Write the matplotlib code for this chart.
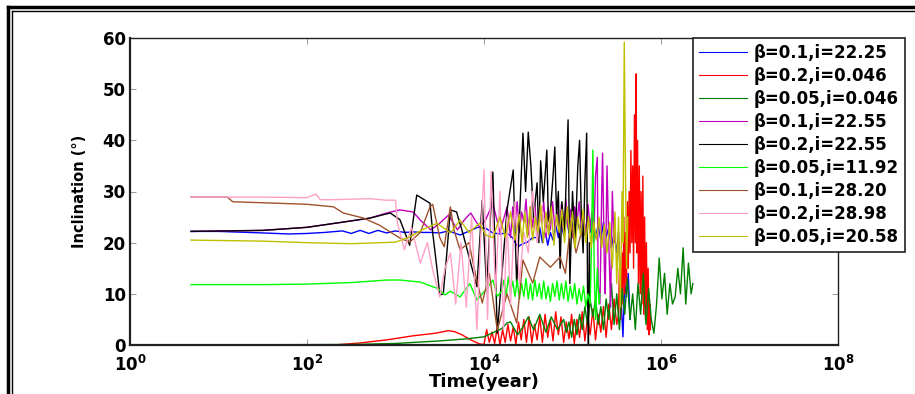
import matplotlib
matplotlib.use("Agg")
import matplotlib.pyplot as plt
import numpy as np
from matplotlib.lines import Line2D
from matplotlib.ticker import FixedLocator, FuncFormatter

plt.rcParams['font.family'] = ['DejaVu Sans']
plt.rcParams['mathtext.fontset'] = 'dejavusans'

# ---------------- data (time as log10(year), inclination in degrees) -------------
labels = ["β=0.1,i=22.25", "β=0.2,i=0.046", "β=0.05,i=0.046", "β=0.1,i=22.55",
          "β=0.2,i=22.55", "β=0.05,i=11.92", "β=0.1,i=28.20", "β=0.2,i=28.98",
          "β=0.05,i=20.58"]
colors = ['#0000ff', '#ff0000', '#008000', '#c000c0', '#000000',
          '#00ff00', '#a0522d', '#ffa0c8', '#c0c000']

blue_lt = [0.69,1.0,1.5,1.8,2.0,2.2,2.4,2.5,2.6,2.7,2.8,2.9,3.0,3.1,3.2,3.3,3.4,3.5,3.6,3.73,3.85,3.93,4.02,4.10,4.18,4.26,4.32,4.38,4.44,4.49,4.55,
           4.60,4.63,4.66,4.69,4.72,4.75,4.78,4.81,4.84,4.87,4.90,4.93,4.96,4.99,5.02,5.05,5.08,5.11,5.14,5.17,5.20,5.23,5.26,5.29,5.32,5.35,5.38,5.41,5.44,5.47,5.50,5.52,5.54,5.56,5.57,5.59,5.61,5.63,5.65]
blue_v = [22.2,22.2,21.9,21.7,21.8,22.0,22.3,21.8,22.4,21.8,22.4,21.9,22.3,22.0,22.1,22.0,22.0,21.9,22.3,21.5,22.4,23.0,22.8,21.9,21.7,21.9,21.0,19.2,19.8,20.1,21.0,
          21.0,23.0,20.0,22.5,19.5,22.0,20.5,23.5,21.0,24.0,21.5,25.0,22.0,24.5,21.0,25.0,22.5,24.0,21.5,25.0,22.0,24.5,21.0,23.5,20.5,24.0,21.0,23.0,19.0,22.0,18.0,22.0,13.0,5.0,1.6,12.0,9.4,14.0,5.0]

red_lt = [0.69,2.3,2.6,2.9,3.2,3.45,3.6,3.67,3.75,3.85,3.95,
          4.00,4.03,4.06,4.09,4.12,4.15,4.18,4.21,4.24,4.27,4.30,4.33,4.36,4.39,4.42,4.45,4.48,4.51,4.54,4.57,4.60,4.63,4.66,4.69,4.72,4.75,4.78,4.81,4.84,4.87,4.90,4.93,4.96,4.99,5.02,5.05,5.08,5.11,5.14,5.17,5.20,5.23,5.26,5.29,5.32,5.35,5.38,5.41,5.44,5.47,5.50,
          5.52,5.53,5.545,5.56,5.57,5.58,5.59,5.60,5.61,5.62,5.63,5.64,5.65,5.66,5.67,5.68,5.69,5.70,5.71,5.72,5.725,5.735,5.745,5.755,5.765,5.775,5.785,5.795,5.805,5.815,5.825,5.835,5.845,5.855,5.865,5.875,5.88]
red_v = [0,0,0.4,1.0,1.8,2.3,2.8,2.6,2.0,1.0,0.2,
         0.1,3,0.5,2.5,0.3,3.5,0,3,0.5,4,0.8,3.5,0.2,4.5,1,5,0.5,5.5,0.4,4,1,5.5,0.5,6,1.5,5,0.8,6.5,2,5.5,0.5,4.5,1.2,6,0.3,5,1.5,6.5,0.8,5.5,2,7,1,6,2.5,7.5,1.5,8,3,9,4,
         6,15,5,18,8,25,10,22,12,28,15,30,18,38,20,35,15,45,20,53,18,40,12,35,10,30,8,33,6,25,5,20,3,15,2,8,3]

dgreen_lt = [0.69,2.5,3.0,3.5,3.8,4.0,4.1,4.2,4.26,4.3,4.38,4.45,4.5,4.56,4.63,4.7,4.76,4.83,
             4.90,4.93,4.96,4.99,5.02,5.05,5.08,5.11,5.14,5.17,5.20,5.23,5.26,5.29,5.32,5.35,5.38,5.41,5.44,5.47,5.50,5.53,5.56,5.59,5.62,5.65,5.68,5.71,5.74,5.77,5.80,5.83,5.86,5.89,5.92,5.95,5.98,6.01,6.04,6.07,6.10,6.13,6.16,6.19,6.22,6.25,6.28,6.31,6.34,6.36]
dgreen_v = [0,0.1,0.3,0.8,1.2,1.6,2.4,3.2,4.3,4.5,2.0,3.8,5.5,3.0,6.0,2.5,5.5,3.0,
            5.0,2.5,4.5,1.5,5.0,2.0,6.0,3.0,7.5,4.0,8.8,5.5,9.0,4.0,7.5,3.0,9.0,5.0,12.0,4.0,10.0,3.0,11.0,6.0,13.0,5.0,10.0,3.0,12.0,6.0,14.0,4.0,11.0,5.0,2.3,8.0,17.0,9.0,14.0,6.0,12.0,8.0,9.4,15.0,10.0,19.0,8.0,16.0,10.0,12.0]

mag_lt = [0.69,1.5,2.0,2.4,2.71,2.9,3.05,3.2,3.28,3.4,3.5,3.6,3.7,3.78,3.85,3.95,4.02,4.1,4.18,4.26,
          4.30,4.325,4.35,4.375,4.40,4.425,4.45,4.475,4.50,4.525,4.55,4.575,4.60,4.625,4.65,4.675,4.70,4.725,4.75,4.775,4.80,4.825,4.85,4.875,4.90,4.925,4.95,4.975,5.00,5.025,5.05,5.075,5.10,5.125,5.15,5.175,5.20,
          5.22,5.24,5.26,5.28,5.29,5.31,5.33,5.34,5.36,5.37,5.39,5.41,5.43,5.45,5.47,5.48]
mag_v = [22.2,22.4,23.0,24.0,24.8,25.8,26.4,26.0,24.4,22.5,23.8,25.4,22.5,24.5,25.8,23.0,24.5,27.7,22.0,27.0,
         21,27,23,28,22,26,24,28.5,21.5,27,23,27.5,22,26.5,24,28,21,27,22.5,28,23,26,21.5,27.5,22,28.5,23,26.5,21,27,24,28,22.5,26,21,27.5,23,
         26,20,33,36.7,12,8,30,37.5,15,10,35,20,7.4,30,20,22]

black_lt = [0.69,1.5,2.0,2.4,2.71,2.94,3.05,3.16,3.24,3.39,3.42,3.47,3.50,3.54,3.58,3.62,3.69,3.76,3.92,3.98,4.03,4.10,4.15,4.26,4.33,4.37,
            4.44,4.47,4.50,4.53,4.56,4.60,4.62,4.64,4.67,4.71,4.73,4.75,4.78,4.80,4.82,4.84,4.86,4.88,4.91,4.95,4.97,5.00,5.03,5.06,5.08,5.10,5.12,5.14,5.16,5.17,5.18,5.19,5.20]
black_v = [22.2,22.4,23.0,24.0,24.8,25.8,24.5,19.5,29.3,27.7,22.0,14.7,9.8,10.0,18.0,26.4,26.0,21.9,11.4,28.3,11.0,33.8,2.3,26.4,34.2,11.4,
           41.4,30,41.6,35,25,31.7,20,36,28,38.1,22,26,33,38.7,25,30,15,28,22,44,12,30,20,35,40,25,18,32,41.4,10,0,20,8]

lime_lt = [0.69,1.5,2.0,2.5,2.9,3.05,3.28,3.42,3.47,3.56,3.62,3.73,3.84,3.92,4.03,4.1,4.15,
           4.20,4.225,4.25,4.275,4.30,4.325,4.35,4.375,4.40,4.425,4.45,4.475,4.50,4.525,4.55,4.575,4.60,4.625,4.65,4.675,4.70,4.725,4.75,4.775,4.80,4.825,4.85,4.875,4.90,4.925,4.95,4.975,5.00,5.025,5.05,5.075,5.10,5.125,5.15,5.175,5.20,5.215,5.23,5.245,5.26,5.28,5.30,5.31]
lime_v = [11.8,11.8,11.9,12.2,12.7,12.7,12.3,11.4,11.1,9.8,10.5,9.4,12.0,8.8,11.0,12.7,9.5,
          10.5,12.7,9.5,13.3,10,12.5,9.5,12.7,9.0,12.0,9.5,13,9,12,8.8,12.7,9.5,12,9,12.5,9,11.5,8.5,12,9.5,12.5,8.8,12,9,12.5,8.5,11.5,9,12,8,11,8.5,11.5,7.5,10,8,20,38.1,15,5,15,8,10]

brown_lt = [0.69,1.1,1.16,1.5,2.0,2.3,2.41,2.64,2.82,3.05,3.16,3.28,3.39,3.42,3.5,3.55,3.62,3.66,3.73,3.83,3.91,3.98,4.06,4.15,4.26,4.37,4.44,4.55,4.63,4.75,4.86,4.92,4.98,5.04,5.1]
brown_v = [28.9,28.9,28.0,27.8,27.5,27.0,25.8,24.8,23.4,20.9,20.1,22.0,27.0,27.5,21.0,19.2,27.0,22.5,18.6,20.0,13.3,8.2,14.0,2.9,10.0,4.3,16.6,12.1,17.2,15.2,17.2,14,24,18,22]

pink_lt = [0.69,1.5,2.0,2.1,2.15,2.3,2.71,2.9,3.0,3.02,3.1,3.18,3.28,3.36,3.42,3.50,3.56,3.62,3.68,3.74,3.80,3.86,3.92,3.96,4.0,4.04,4.08,4.13,4.18,4.22,4.26,4.3,4.35,4.4,4.45,4.5,4.55,4.6,4.65,4.7,4.75]
pink_v = [28.9,28.9,28.8,29.5,28.4,28.4,28.6,28.3,28.3,24,18.6,23.0,16.0,20.0,14.7,9.4,15.0,18.0,8.0,20.0,7.4,25.0,3.0,20.0,34.2,5.0,34.0,10.0,30.0,3.0,25.0,8.0,28.0,12.0,22.0,18.0,30.0,20.0,27.0,22.0,25.0]

yel_lt = [0.69,1.5,2.0,2.5,3.0,3.16,3.3,3.47,3.62,3.73,3.83,3.95,4.02,4.10,4.18,4.24,4.30,4.35,4.40,
          4.43,4.46,4.49,4.52,4.55,4.58,4.61,4.64,4.67,4.70,4.73,4.76,4.79,4.82,4.85,4.88,4.91,4.94,4.97,5.00,5.03,5.06,5.09,5.12,5.15,5.18,5.21,5.24,5.27,5.30,5.33,5.36,5.39,5.42,5.45,5.48,5.50,5.52,5.54,5.56,5.57,5.585,5.595,5.61,5.625]
yel_v = [20.5,20.3,20.0,19.8,20.1,21.1,22.5,23.8,21.9,24.4,22.0,23.8,21.5,21.0,25.0,21.0,26.0,20.5,25.5,
         20,26,21,27,20.5,25,22,27.5,20,26,21.5,27,19.5,25.5,22,26.5,20,27,21,26,19,25,21.5,26.5,20,25,19,24,20.5,25,19,23.5,18,24,15,26,12,25,7.4,30,20,59.2,40,15,25]

series_lt = [blue_lt, red_lt, dgreen_lt, mag_lt, black_lt, lime_lt, brown_lt, pink_lt, yel_lt]
series_v = [blue_v, red_v, dgreen_v, mag_v, black_v, lime_v, brown_v, pink_v, yel_v]

xticks_exp = [0, 2, 4, 6, 8]
yticks = [0, 10, 20, 30, 40, 50, 60]

# ---------------- figure ----------------
fig = plt.figure(figsize=(9.15, 3.94), dpi=100)
W, H = 915, 394
ax = fig.add_axes([130 / W, 1 - 345 / H, (838 - 130) / W, (345 - 38) / H])

handles = []
for lt, v, c, lab in zip(series_lt, series_v, colors, labels):
    t = np.power(10.0, np.array(lt))
    ln, = ax.plot(t, v, color=c, lw=1.0, label=lab)
    handles.append(ln)

ax.set_xscale('log')
ax.set_xlim(1, 1e8)
ax.set_ylim(0, 60)
ax.xaxis.set_major_locator(FixedLocator([10.0 ** e for e in xticks_exp]))
ax.xaxis.set_minor_locator(FixedLocator([]))
ax.xaxis.set_major_formatter(FuncFormatter(lambda x, p: r'$\mathbf{10^{%d}}$' % int(round(np.log10(x)))))
ax.set_yticks(yticks)
ax.tick_params(axis='both', which='both', direction='in', top=True, right=True,
               length=4, width=0.6, color='#888888', labelsize=12)
ax.tick_params(axis='x', pad=7)
ax.tick_params(axis='y', pad=3)
for lab in ax.get_yticklabels():
    lab.set_fontweight('bold')
for sp in ax.spines.values():
    sp.set_linewidth(1.0)
    sp.set_color('#222222')
ax.spines['left'].set_linewidth(1.6)
ax.spines['bottom'].set_linewidth(1.6)

ax.set_xlabel('Time(year)', fontsize=13, fontweight='bold', labelpad=-1)
ax.set_ylabel('Inclination (°)', fontsize=10.5, fontweight='bold', labelpad=11)

leg = fig.legend(handles=handles, loc='upper left', bbox_to_anchor=(693 / W, 1 - 38 / H),
                 bbox_transform=fig.transFigure, frameon=True, fancybox=False,
                 prop={'size': 12, 'weight': 'bold'}, handlelength=2.9, handletextpad=0.4,
                 labelspacing=0.3, borderpad=0.35, borderaxespad=0)
leg.get_frame().set_edgecolor('#222222')
leg.get_frame().set_linewidth(1.2)
leg.get_frame().set_alpha(1)
for h in leg.get_lines():
    h.set_linewidth(0.8)

# double border frame of the figure panel
def fline(xs, ys, lw):
    fig.add_artist(Line2D([x / W for x in xs], [1 - y / H for y in ys], color='black', lw=lw,
                          transform=fig.transFigure))

fline([8, 915], [7, 7], 2.5)
fline([8, 8], [7, 394], 2.5)
fline([12, 915], [11, 11], 1.0)
fline([12, 12], [11, 394], 1.0)

fig.savefig('out.png', dpi=100)
